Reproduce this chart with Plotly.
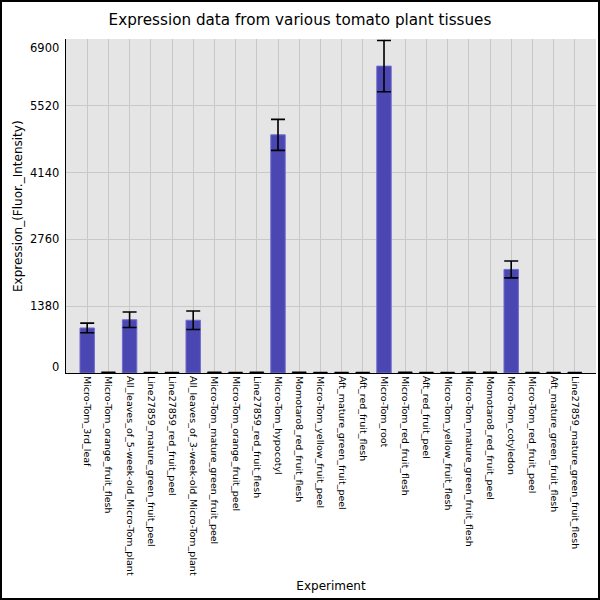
import plotly.graph_objects as go

# tissue names, in the order they appear on the x axis
tissues = [
    "Micro-Tom_3rd_leaf",
    "Micro-Tom_orange_fruit_flesh",
    "All_leaves_of_5-week-old_Micro-Tom_plant",
    "Line27859_mature_green_fruit_peel",
    "Line27859_red_fruit_peel",
    "All_leaves_of_3-week-old_Micro-Tom_plant",
    "Micro-Tom_mature_green_fruit_peel",
    "Micro-Tom_orange_fruit_peel",
    "Line27859_red_fruit_flesh",
    "Micro-Tom_hypocotyl",
    "Momotaro8_red_fruit_flesh",
    "Micro-Tom_yellow_fruit_peel",
    "Aft_mature_green_fruit_peel",
    "Aft_red_fruit_flesh",
    "Micro-Tom_root",
    "Micro-Tom_red_fruit_flesh",
    "Aft_red_fruit_peel",
    "Micro-Tom_yellow_fruit_flesh",
    "Micro-Tom_mature_green_fruit_flesh",
    "Momotaro8_red_fruit_peel",
    "Micro-Tom_cotyledon",
    "Micro-Tom_red_fruit_peel",
    "Aft_mature_green_fruit_flesh",
    "Line27859_mature_green_fruit_flesh",
]

# mean expression and its error
expression = [930, 8, 1100, 6, 6, 1090, 8, 6, 8, 4920, 8, 6,
              6, 6, 6340, 8, 6, 6, 8, 8, 2140, 6, 6, 6]
errors = [100, 5, 160, 4, 4, 190, 5, 4, 5, 320, 5, 4,
          4, 4, 530, 5, 4, 4, 5, 5, 175, 4, 4, 4]

y_ticks = [0, 1380, 2760, 4140, 5520, 6900]

fig = go.Figure()
fig.add_trace(go.Bar(
    x=list(range(len(tissues))), y=expression,
    width=0.68,
    marker=dict(color="rgb(74,70,178)", line=dict(color="rgb(112,108,205)", width=1)),
    error_y=dict(type="data", array=errors, visible=True, color="black",
                 thickness=1.6, width=7),
))

# 600x600 page with a thin black frame all round
pw, ph = 530, 334
ml, mr, mt, mb = 66, 4, 39, 227
fig.add_shape(type="rect", xref="paper", yref="paper",
              x0=-(ml - 1) / pw, x1=1 + (mr - 1) / pw,
              y0=-(mb - 1) / ph, y1=1 + (mt - 1) / ph,
              line=dict(color="black", width=2))

# y tick labels, the end ones nudged inside like the original
for v in y_ticks:
    shift = 0
    if v == y_ticks[0]:
        shift = 6
    elif v == y_ticks[-1]:
        shift = -9
    fig.add_annotation(x=0, xref="paper", y=v, yref="y", text=str(v),
                       showarrow=False, xanchor="right", yanchor="middle",
                       xshift=-5, yshift=shift, font=dict(size=11.5))

fig.update_layout(
    width=600, height=600,
    margin=dict(l=ml, r=mr, t=mt, b=mb, autoexpand=False),
    paper_bgcolor="white", plot_bgcolor="rgb(229,229,229)",
    font=dict(family="DejaVu Sans", color="black", size=11),
    title=dict(text="Expression data from various tomato plant tissues",
               x=0.5, xanchor="center", y=1 - 20 / 600, yanchor="middle",
               font=dict(size=15.2)),
    showlegend=False,
)
fig.update_xaxes(
    range=[-1, len(tissues)], automargin=False,
    tickmode="array", tickvals=list(range(len(tissues))), ticktext=tissues,
    tickangle=90, tickfont=dict(size=9.5),
    showgrid=True, gridcolor="rgb(200,200,200)", gridwidth=1,
    showline=True, linecolor="black", linewidth=1,
    ticks="", title=dict(text="Experiment", font=dict(size=12), standoff=6),
)
fig.update_yaxes(
    range=[0, 6900], automargin=False,
    tickmode="array", tickvals=y_ticks, showticklabels=False,
    showgrid=True, gridcolor="rgb(200,200,200)", gridwidth=1,
    showline=True, linecolor="black", linewidth=1,
    zeroline=False, ticks="",
)
fig.add_annotation(x=-(ml - 18) / pw, xref="paper", y=0.5, yref="paper",
                   text="Expression_(Fluor._Intensity)", textangle=-90,
                   showarrow=False, xanchor="center", yanchor="middle",
                   font=dict(size=12))

fig.write_html("out.html", config={"displayModeBar": False},
               post_script="document.body.style.margin='0px';")
